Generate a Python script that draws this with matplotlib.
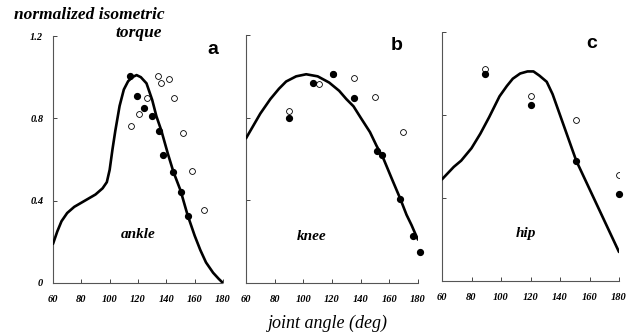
import matplotlib
matplotlib.use("Agg")
import matplotlib.pyplot as plt

# ---- data ---------------------------------------------------------------
# ankle (panel a)
ankle_curve_x = [60, 63, 66, 70, 75, 80, 85, 90, 95, 98, 100, 102, 104, 107, 110, 113, 116, 119,
                 122, 126, 130, 133, 136.5, 141, 145, 150, 155, 160, 164, 168, 173, 177, 180]
ankle_curve_y = [0.19, 0.25, 0.30, 0.34, 0.37, 0.39, 0.41, 0.43, 0.46, 0.49, 0.55, 0.65, 0.74, 0.86,
                 0.94, 0.98, 1.00, 1.01, 1.00, 0.97, 0.89, 0.81, 0.74, 0.63, 0.54, 0.45, 0.33, 0.23,
                 0.16, 0.10, 0.05, 0.02, 0.00]
ankle_filled_x = [114.3, 119, 124.4, 129.9, 135, 137.9, 145, 150.3, 155]
ankle_filled_y = [1.005, 0.91, 0.85, 0.81, 0.74, 0.62, 0.54, 0.44, 0.325]
ankle_open_x = [114.8, 120.5, 126.3, 134.3, 136.2, 141.9, 145.4, 151.7, 157.9, 166.4]
ankle_open_y = [0.765, 0.82, 0.90, 1.005, 0.97, 0.99, 0.90, 0.727, 0.544, 0.353]

# knee (panel b)
knee_curve_x = [60, 65, 70, 77, 83, 88, 95, 102, 110, 118, 125, 130, 135, 140, 146.5, 151, 156,
                162, 167.5, 172, 175.5, 178, 180]
knee_curve_y = [0.70, 0.76, 0.82, 0.89, 0.94, 0.975, 1.00, 1.01, 1.00, 0.97, 0.93, 0.89, 0.855,
                0.80, 0.73, 0.665, 0.60, 0.50, 0.41, 0.33, 0.28, 0.24, 0.21]
knee_filled_x = [90.2, 106.5, 121, 135.6, 151.2, 155.1, 167.5, 176.2, 181.5]
knee_filled_y = [0.796, 0.966, 1.01, 0.895, 0.637, 0.618, 0.406, 0.228, 0.15]
knee_open_x = [90.2, 110.9, 121, 135.4, 150, 169.3]
knee_open_y = [0.83, 0.964, 1.01, 0.99, 0.90, 0.73]

# hip (panel c)
hip_curve_x = [60, 64, 68, 73, 80, 86, 92, 99, 104, 108, 113, 118, 122, 126, 131, 135, 138,
               144.5, 151, 180]
hip_curve_y = [0.49, 0.52, 0.55, 0.58, 0.64, 0.71, 0.79, 0.89, 0.94, 0.975, 1.00, 1.01, 1.01,
               0.99, 0.96, 0.90, 0.84, 0.71, 0.58, 0.14]
hip_filled_x = [89.2, 120.1, 151.1, 180.2]
hip_filled_y = [0.998, 0.848, 0.578, 0.42]
hip_open_x = [89.2, 120.1, 151.1, 180.2]
hip_open_y = [1.02, 0.89, 0.777, 0.51]

x_ticks = [60, 80, 100, 120, 140, 160, 180]
y_ticks = [0, 0.4, 0.8, 1.2]
y_tick_labels = ["0", "0.4", "0.8", "1.2"]

W, H = 631, 333
SERIF = "Liberation Serif"

fig = plt.figure(figsize=(W / 100, H / 100), dpi=100)
fig.patch.set_facecolor("white")


def px_axes(left, right, bottom, top):
    """Axes from pixel edges (top-left origin)."""
    return fig.add_axes([left / W, 1 - bottom / H, (right - left) / W, (bottom - top) / H])


panels = [
    dict(box=(53, 223, 283, 36), cx=ankle_curve_x, cy=ankle_curve_y,
         fx=ankle_filled_x, fy=ankle_filled_y, ox=ankle_open_x, oy=ankle_open_y,
         name="ankle", letter="a", name_pos=(138, 235), letter_pos=(213, 50), ylabels=True),
    dict(box=(246, 418, 283, 35), cx=knee_curve_x, cy=knee_curve_y,
         fx=knee_filled_x, fy=knee_filled_y, ox=knee_open_x, oy=knee_open_y,
         name="knee", letter="b", name_pos=(312, 236), letter_pos=(397, 46), ylabels=False),
    dict(box=(442, 619, 281, 32), cx=hip_curve_x, cy=hip_curve_y,
         fx=hip_filled_x, fy=hip_filled_y, ox=hip_open_x, oy=hip_open_y,
         name="hip", letter="c", name_pos=(526, 234), letter_pos=(592, 44), ylabels=False),
]

for p in panels:
    ax = px_axes(*p["box"])
    ax.patch.set_alpha(0)
    ax.plot(p["cx"], p["cy"], color="black", linewidth=1.9, solid_capstyle="round",
            solid_joinstyle="round", zorder=3)
    ax.plot(p["ox"], p["oy"], linestyle="none", marker="o", markersize=4.2,
            markerfacecolor="white", markeredgecolor="black", markeredgewidth=0.6, zorder=4)
    ax.plot(p["fx"], p["fy"], linestyle="none", marker="o", markersize=4.2,
            color="black", zorder=5, clip_on=False)
    ax.set_xlim(60, 180)
    ax.set_ylim(0, 1.2)
    for side in ("top", "right"):
        ax.spines[side].set_visible(False)
    for side in ("left", "bottom"):
        ax.spines[side].set_linewidth(0.8)
        ax.spines[side].set_color("#555555")
        ax.spines[side].set_linestyle((0, (2, 1)))
    ax.set_xticks(x_ticks)
    ax.set_xticklabels([str(t) for t in x_ticks], fontfamily=SERIF, fontstyle="italic",
                       fontweight="bold", fontsize=7.5)
    ax.set_yticks(y_ticks)
    if p["ylabels"]:
        ax.set_yticklabels(y_tick_labels, fontfamily=SERIF, fontstyle="italic",
                           fontweight="bold", fontsize=7.5)
    else:
        ax.set_yticklabels([])
    ax.tick_params(axis="both", direction="in", length=3, width=0.7, color="#444444")
    ax.tick_params(axis="x", pad=9)
    ax.tick_params(axis="y", pad=7)

    fig.text(p["name_pos"][0] / W, 1 - p["name_pos"][1] / H, p["name"], ha="center", va="center",
             fontfamily=SERIF, fontstyle="italic", fontweight="bold", fontsize=11)
    fig.text(p["letter_pos"][0] / W, 1 - p["letter_pos"][1] / H, p["letter"], ha="center",
             va="center", fontfamily="Liberation Sans", fontweight="bold", fontsize=14)

fig.text(14 / W, 1 - 15 / H, "normalized isometric", ha="left", va="center",
         fontfamily=SERIF, fontstyle="italic", fontweight="bold", fontsize=12.5)
fig.text(162 / W, 1 - 33 / H, "torque", ha="right", va="center",
         fontfamily=SERIF, fontstyle="italic", fontweight="bold", fontsize=12.5)
fig.text(328 / W, 1 - 323 / H, "joint angle (deg)", ha="center", va="center",
         fontfamily=SERIF, fontstyle="italic", fontsize=13)

fig.savefig("out.png", dpi=100)
